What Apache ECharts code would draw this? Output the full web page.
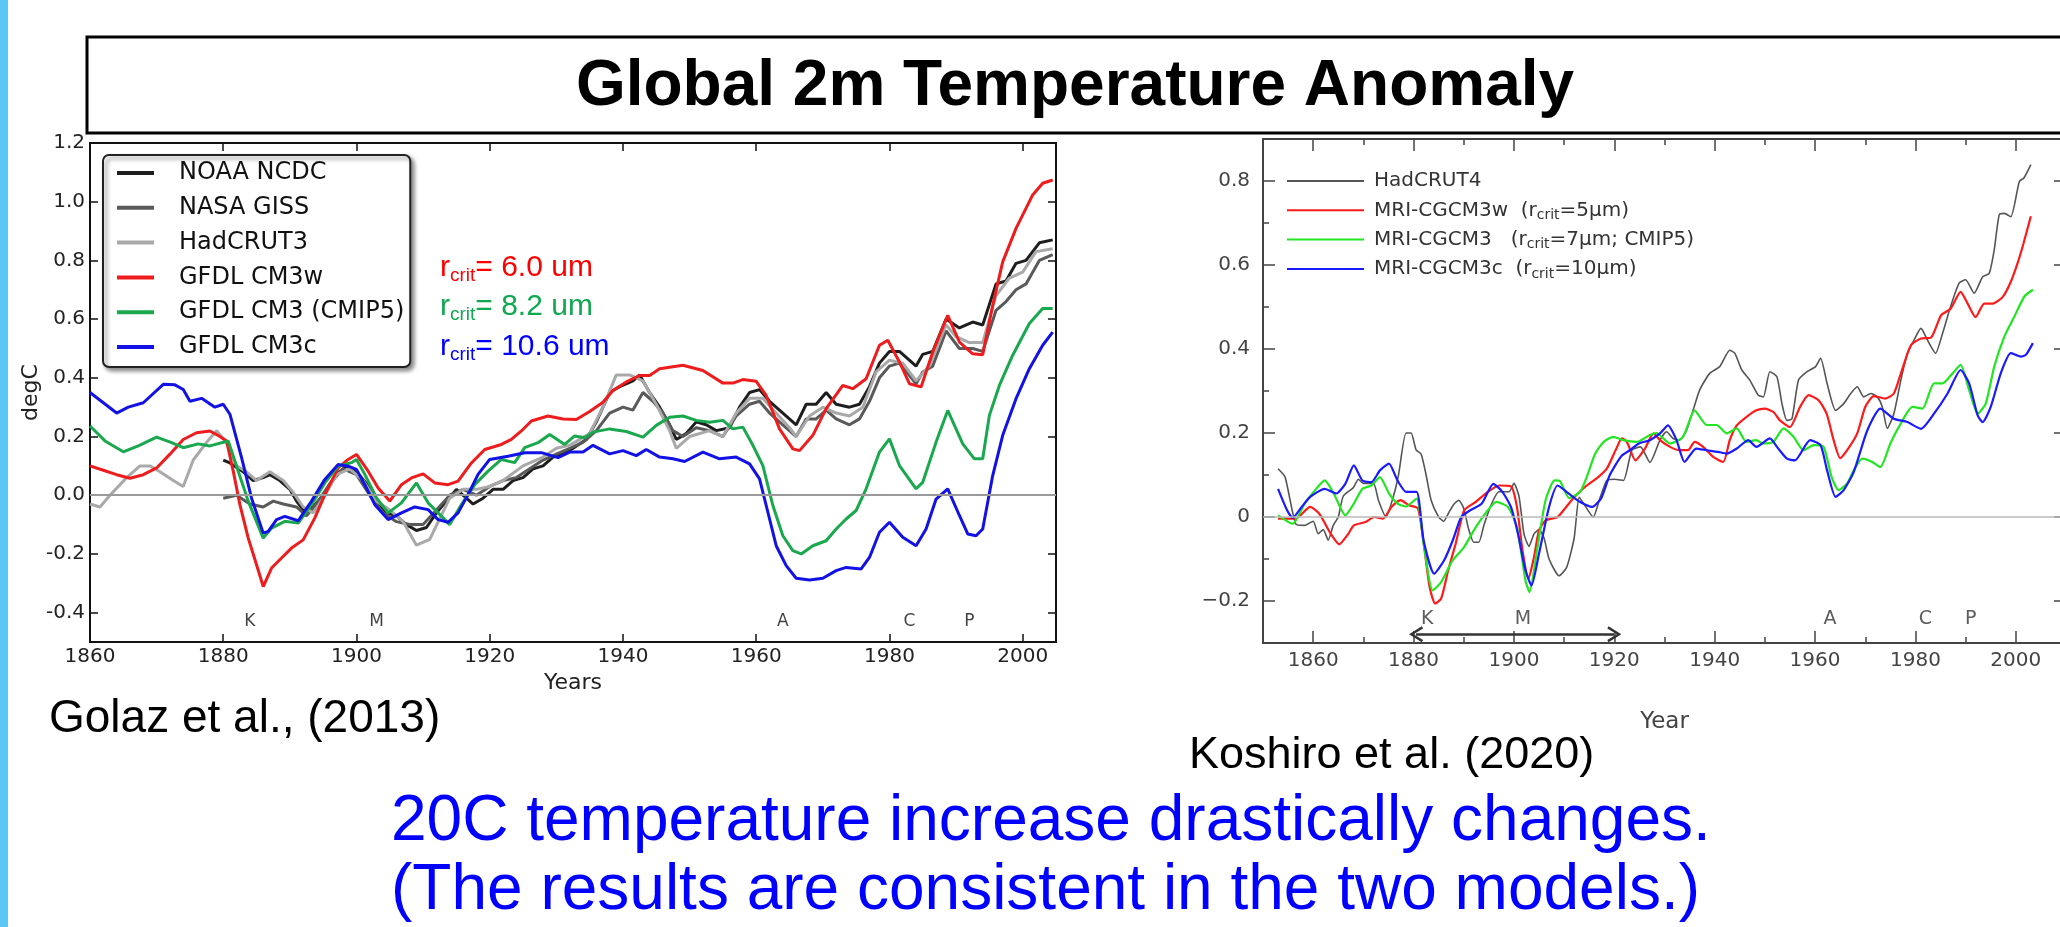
<!DOCTYPE html>
<html>
<head>
<meta charset="utf-8">
<script src="https://cdn.jsdelivr.net/npm/echarts@6/dist/echarts.min.js"></script>
<style>
html,body{margin:0;padding:0;background:#fff;}
#c{width:2060px;height:927px;}
</style>
</head>
<body>
<div id="c"></div>
<script>
// ---------------- DATA: left panel (Golaz et al., 2013) ----------------
const leftXTicks = [1860, 1880, 1900, 1920, 1940, 1960, 1980, 2000];
const leftYTicks = [-0.4, -0.2, 0, 0.2, 0.4, 0.6, 0.8, 1.0, 1.2];
const leftEventYears = [1884, 1903, 1964, 1983, 1992];
const leftEventNames = ['K', 'M', 'A', 'C', 'P'];

const noaaData = [[1880,0.12],[1881,0.11],[1883,0.08],[1884.5,0.05],[1886,0.06],[1887,0.07],[1888.5,0.05],[1890,0.02],[1891,-0.02],[1892,-0.05],[1893.5,-0.04],[1895,0.0],[1897,0.07],[1898.5,0.1],[1900,0.08],[1901.5,0.04],[1903,-0.02],[1904.5,-0.06],[1906,-0.07],[1907.5,-0.1],[1909,-0.12],[1910.5,-0.11],[1912,-0.06],[1913.5,-0.02],[1915,0.02],[1916.5,-0.01],[1917.5,-0.03],[1919,-0.01],[1920.5,0.02],[1922,0.02],[1923.5,0.05],[1925,0.06],[1926.5,0.09],[1928,0.1],[1929.5,0.13],[1931,0.14],[1932.5,0.16],[1934.5,0.19],[1936,0.25],[1938,0.35],[1939.5,0.37],[1941.5,0.39],[1942.5,0.41],[1944,0.35],[1945.5,0.3],[1947,0.24],[1948,0.19],[1949.5,0.21],[1951,0.25],[1952.5,0.24],[1954,0.22],[1956,0.23],[1957.5,0.3],[1959,0.35],[1960.5,0.36],[1962,0.32],[1964,0.28],[1966,0.24],[1967.5,0.31],[1969,0.31],[1970.5,0.35],[1972,0.31],[1974,0.3],[1975.5,0.31],[1977,0.37],[1978.5,0.45],[1980,0.49],[1981.5,0.49],[1984,0.44],[1985,0.48],[1986.5,0.49],[1988.5,0.6],[1990.5,0.57],[1992.5,0.59],[1994,0.58],[1996,0.72],[1997.5,0.73],[1999,0.79],[2000.5,0.8],[2002.5,0.86],[2004.5,0.87]];
const gissData = [[1880,-0.01],[1882,0.0],[1884,-0.03],[1886,-0.04],[1887.5,-0.02],[1889,-0.03],[1891,-0.04],[1892.5,-0.07],[1894,-0.03],[1896,0.04],[1898,0.09],[1900,0.07],[1902,0.0],[1904,-0.06],[1906,-0.09],[1908,-0.1],[1910,-0.1],[1912,-0.05],[1914,0.0],[1916,0.02],[1918,0.0],[1920,0.03],[1922,0.05],[1924,0.06],[1926,0.09],[1928,0.12],[1930,0.14],[1932,0.16],[1934,0.18],[1936,0.22],[1938,0.28],[1940,0.3],[1941.5,0.29],[1943,0.35],[1944.5,0.32],[1946,0.28],[1947.5,0.22],[1949,0.2],[1951,0.23],[1953,0.22],[1955,0.2],[1957,0.27],[1959,0.31],[1960.5,0.32],[1962,0.28],[1964,0.24],[1966,0.2],[1967.5,0.26],[1969,0.26],[1970.5,0.29],[1972,0.26],[1974,0.24],[1975.5,0.26],[1977,0.32],[1978.5,0.4],[1980,0.44],[1981.5,0.45],[1984,0.38],[1985,0.42],[1986.5,0.44],[1988.5,0.56],[1990.5,0.5],[1992.5,0.5],[1994,0.49],[1996,0.63],[1997.5,0.66],[1999,0.7],[2000.5,0.72],[2002.5,0.8],[2004.5,0.82]];
const had3Data = [[1860,-0.03],[1861.5,-0.04],[1863,0.0],[1865.5,0.06],[1867.5,0.1],[1869,0.1],[1870.5,0.08],[1872.5,0.05],[1874,0.03],[1875.5,0.12],[1877.5,0.18],[1879,0.22],[1880.5,0.18],[1882,0.1],[1883.5,0.08],[1885,0.05],[1887,0.08],[1889,0.05],[1890.5,0.01],[1892,-0.04],[1893.5,-0.06],[1895,-0.01],[1897,0.07],[1899,0.09],[1901,0.05],[1903,-0.02],[1905,-0.05],[1907,-0.09],[1909,-0.17],[1911,-0.15],[1912.5,-0.08],[1914,-0.01],[1916,0.02],[1918,0.02],[1920,0.03],[1922,0.05],[1925,0.1],[1928,0.13],[1930,0.16],[1932,0.17],[1935,0.21],[1937,0.3],[1939,0.41],[1941,0.41],[1943,0.39],[1945,0.31],[1947,0.22],[1948,0.16],[1950,0.2],[1953,0.22],[1955,0.2],[1957,0.28],[1959,0.33],[1961,0.33],[1963,0.28],[1965,0.23],[1966,0.2],[1968,0.27],[1970,0.3],[1972,0.28],[1974,0.27],[1976,0.3],[1978,0.42],[1980,0.46],[1982,0.45],[1984,0.39],[1986,0.44],[1988.5,0.58],[1990,0.54],[1992,0.52],[1994,0.52],[1996,0.68],[1998,0.74],[2000,0.76],[2002,0.83],[2004.5,0.84]];
const cm3wData = [[1860,0.10],[1862,0.085],[1864,0.07],[1866,0.058],[1868,0.07],[1870,0.093],[1872,0.14],[1874,0.19],[1876,0.213],[1878,0.219],[1879.5,0.2],[1880.5,0.185],[1881.5,0.082],[1882.5,-0.032],[1883.75,-0.146],[1885,-0.237],[1886,-0.311],[1887.25,-0.248],[1888.75,-0.214],[1890.25,-0.18],[1892,-0.152],[1893.75,-0.077],[1895.25,0.002],[1897.25,0.093],[1898.75,0.122],[1900,0.139],[1901.75,0.082],[1903.25,0.025],[1905,-0.02],[1906.75,0.036],[1908.25,0.059],[1910,0.073],[1911.75,0.042],[1913.75,0.036],[1915.25,0.048],[1917.25,0.11],[1919.25,0.156],[1921.75,0.173],[1923.25,0.19],[1924.75,0.219],[1926.25,0.253],[1928.75,0.27],[1931,0.26],[1933,0.258],[1935,0.285],[1937,0.317],[1938.5,0.357],[1940.5,0.386],[1942.5,0.408],[1944,0.408],[1945.5,0.431],[1949,0.443],[1952,0.425],[1955,0.382],[1956.5,0.382],[1958,0.394],[1960,0.388],[1961.5,0.34],[1963.5,0.226],[1965.5,0.158],[1966.5,0.152],[1968.5,0.204],[1970.5,0.295],[1973,0.374],[1974.5,0.363],[1976.5,0.397],[1978.5,0.511],[1979.75,0.528],[1981.5,0.454],[1983,0.38],[1984.75,0.369],[1986.5,0.488],[1988.75,0.613],[1990.5,0.522],[1992.5,0.482],[1994,0.479],[1995.5,0.647],[1997,0.795],[1999,0.909],[2001.5,1.023],[2003,1.063],[2004.5,1.074]];
const cm3Data = [[1860,0.236],[1862.25,0.185],[1865,0.148],[1867.25,0.168],[1870,0.198],[1872.25,0.179],[1874,0.162],[1876.25,0.175],[1878,0.168],[1880.75,0.185],[1882.25,0.082],[1883.75,-0.02],[1886,-0.146],[1887.25,-0.112],[1889.25,-0.089],[1891.25,-0.095],[1893.25,-0.032],[1895.25,0.042],[1897.25,0.099],[1899.25,0.111],[1900,0.122],[1901.25,0.071],[1903,-0.009],[1904.75,-0.06],[1906.75,-0.026],[1909,0.042],[1910.75,-0.026],[1912.25,-0.06],[1914,-0.1],[1915.75,-0.032],[1917.75,0.036],[1919.75,0.082],[1921.75,0.122],[1923.75,0.111],[1925.25,0.162],[1927.25,0.179],[1929,0.207],[1931.25,0.173],[1932.75,0.202],[1934.25,0.196],[1935.5,0.215],[1938,0.226],[1940.5,0.217],[1943,0.198],[1945,0.238],[1947,0.266],[1949,0.27],[1951,0.255],[1953,0.249],[1955,0.255],[1956.5,0.226],[1958,0.232],[1959.5,0.17],[1961,0.101],[1962.5,-0.035],[1964,-0.138],[1965.5,-0.189],[1966.75,-0.2],[1968.5,-0.172],[1970.5,-0.155],[1972,-0.115],[1973.5,-0.081],[1975,-0.052],[1976.5,0.022],[1978.5,0.147],[1980,0.192],[1981.5,0.101],[1984,0.022],[1985,0.044],[1987,0.181],[1988.75,0.289],[1991,0.175],[1992.75,0.124],[1994,0.124],[1995,0.272],[1996.5,0.374],[1998.5,0.477],[2001,0.585],[2003,0.636],[2004.5,0.636]];
const cm3cData = [[1860,0.35],[1864,0.28],[1865.75,0.30],[1868,0.315],[1871,0.378],[1872.75,0.376],[1874,0.36],[1875,0.32],[1876.75,0.33],[1878.75,0.30],[1880,0.31],[1881,0.276],[1882.75,0.128],[1884.25,-0.01],[1886,-0.129],[1886.75,-0.123],[1888,-0.083],[1889.25,-0.072],[1891.25,-0.087],[1893.25,-0.02],[1895.25,0.054],[1897.25,0.105],[1898.75,0.099],[1900,0.088],[1901.25,0.036],[1902.75,-0.032],[1904.75,-0.083],[1906.75,-0.06],[1908.75,-0.04],[1910.75,-0.049],[1912.25,-0.083],[1913.75,-0.092],[1915.25,-0.06],[1916.75,0.002],[1918.25,0.071],[1920,0.122],[1922.75,0.133],[1925.25,0.145],[1927.75,0.145],[1930.25,0.128],[1932,0.147],[1934,0.147],[1935.5,0.17],[1938,0.141],[1940,0.152],[1942,0.135],[1943.5,0.156],[1945.5,0.13],[1947.5,0.124],[1949.25,0.115],[1952,0.147],[1954.5,0.124],[1957,0.13],[1959,0.107],[1960.5,0.056],[1961.5,-0.035],[1963,-0.172],[1964.5,-0.24],[1966,-0.283],[1968,-0.289],[1970,-0.283],[1972,-0.257],[1973.5,-0.246],[1975.75,-0.251],[1977,-0.212],[1978.5,-0.126],[1980,-0.092],[1982,-0.143],[1984,-0.172],[1985.5,-0.115],[1987,-0.013],[1988.75,0.022],[1990.5,-0.069],[1991.75,-0.132],[1993,-0.138],[1994,-0.115],[1995.5,0.067],[1997,0.204],[1999,0.329],[2001,0.431],[2003,0.511],[2004.5,0.556]];

// ---------------- DATA: right panel (Koshiro et al., 2020) ----------------
const rightXMajor = [1860, 1880, 1900, 1920, 1940, 1960, 1980, 2000];
const rightXMinor = [1870, 1890, 1910, 1930, 1950, 1970, 1990];
const rightYMajor = [-0.2, 0, 0.2, 0.4, 0.6, 0.8];
const rightYMinor = [-0.1, 0.1, 0.3, 0.5, 0.7];
const rightEventYears = [1882.7, 1901.8, 1963, 1982, 1991];
const rightEventNames = ['K', 'M', 'A', 'C', 'P'];
const rightArrowYears = [1880.5, 1920];

const had4Data = [[1853,0.115],[1854.4,0.095],[1856.5,-0.016],[1858.3,-0.02],[1860,-0.01],[1861,-0.04],[1862,-0.03],[1863,-0.055],[1864,-0.02],[1865,0.0],[1866,0.05],[1868,0.07],[1869,0.09],[1870,0.08],[1872,0.08],[1873,0.04],[1874.5,0.0],[1876,0.05],[1877,0.1],[1878.5,0.2],[1879.5,0.2],[1880.5,0.16],[1881.5,0.15],[1882.5,0.1],[1883.5,0.04],[1885,0.0],[1886,-0.01],[1887,0.01],[1888,0.03],[1889,0.04],[1890,0.02],[1891,-0.03],[1892,-0.06],[1893,-0.06],[1894,-0.02],[1895.5,0.03],[1897,0.06],[1899,0.06],[1900,0.08],[1901,0.05],[1902,-0.04],[1903,-0.07],[1904,-0.04],[1905,-0.03],[1906,-0.05],[1907,-0.1],[1909,-0.14],[1910.5,-0.12],[1912,-0.05],[1913,0.047],[1914,0.03],[1915.8,0.0],[1917,0.04],[1918.5,0.087],[1920,0.09],[1921.8,0.087],[1923.5,0.159],[1925.2,0.167],[1927.1,0.13],[1929.1,0.183],[1930.4,0.203],[1931.7,0.187],[1933,0.183],[1934.4,0.207],[1935.7,0.254],[1937,0.302],[1939,0.342],[1941,0.358],[1943,0.397],[1944,0.39],[1945.4,0.35],[1947,0.326],[1948.7,0.29],[1949.7,0.286],[1951,0.346],[1952.4,0.334],[1953.4,0.27],[1954.4,0.23],[1955.4,0.234],[1956.7,0.326],[1958.4,0.346],[1960.1,0.358],[1961.1,0.378],[1962.4,0.318],[1964.1,0.254],[1965.7,0.27],[1967.1,0.294],[1968.4,0.31],[1969.7,0.286],[1971.1,0.294],[1972.4,0.286],[1973.4,0.262],[1974.4,0.211],[1975.7,0.246],[1977.1,0.326],[1978.4,0.39],[1979.7,0.421],[1981.1,0.449],[1982.4,0.421],[1984,0.39],[1985.4,0.437],[1987,0.501],[1988.7,0.557],[1990,0.565],[1991.7,0.533],[1993.4,0.572],[1994.7,0.58],[1995.7,0.636],[1996.7,0.72],[1997.7,0.723],[1999,0.715],[2000.7,0.799],[2001.6,0.807],[2003,0.839]];
const mriwData = [[1853,-0.004],[1856.5,-0.004],[1859.4,0.024],[1861.2,0.008],[1863.5,-0.04],[1865.2,-0.065],[1867,-0.04],[1868.1,-0.02],[1870.4,-0.012],[1872.2,0.0],[1873.9,-0.004],[1875.6,0.024],[1877.4,0.04],[1879.1,0.028],[1880.9,0.02],[1882.2,-0.079],[1883.2,-0.167],[1884.3,-0.206],[1885.5,-0.194],[1886.9,-0.127],[1888.4,-0.063],[1890.1,0.016],[1892.4,0.036],[1894.8,0.06],[1897.1,0.075],[1899.4,0.073],[1900.6,0.024],[1901.7,-0.079],[1902.9,-0.147],[1904,-0.095],[1905,-0.032],[1906.3,-0.008],[1908.7,0.0],[1910.4,0.024],[1912.1,0.048],[1914.5,0.075],[1916.8,0.095],[1918.5,0.115],[1920.3,0.16],[1921.5,0.187],[1922.5,0.179],[1924.2,0.135],[1926.1,0.163],[1927.8,0.199],[1929.1,0.183],[1931.1,0.167],[1933,0.159],[1934.7,0.159],[1936,0.179],[1937.7,0.167],[1939.7,0.143],[1941.7,0.131],[1943,0.183],[1944.4,0.218],[1946.3,0.238],[1948.3,0.254],[1950,0.258],[1951.7,0.25],[1953,0.23],[1955,0.214],[1957,0.262],[1958.7,0.29],[1960.7,0.278],[1962.3,0.246],[1963.7,0.183],[1965,0.14],[1966.4,0.159],[1968.4,0.199],[1970,0.262],[1971.7,0.288],[1974,0.282],[1975.7,0.294],[1977.1,0.342],[1979.1,0.409],[1981.1,0.425],[1983.1,0.427],[1985.1,0.48],[1987,0.496],[1989,0.536],[1990.4,0.508],[1992,0.476],[1993.7,0.508],[1995.4,0.508],[1997.4,0.524],[1999,0.56],[2000.5,0.61],[2001.5,0.65],[2003,0.716]];
const mriData = [[1853,0.004],[1855.9,-0.016],[1858.3,0.032],[1860.6,0.067],[1862.3,0.087],[1864.1,0.056],[1866.4,0.004],[1868.1,0.032],[1869.8,0.067],[1871.6,0.075],[1873.3,0.095],[1875.1,0.056],[1876.8,0.032],[1878.5,0.025],[1880.6,0.044],[1882,-0.063],[1883.8,-0.175],[1885.5,-0.155],[1887.8,-0.103],[1890.1,-0.071],[1892.4,-0.024],[1894.8,0.016],[1896.5,0.036],[1898.8,0.024],[1900.6,-0.024],[1902.3,-0.151],[1903.1,-0.179],[1904.6,-0.079],[1906.3,0.04],[1908.1,0.087],[1909.2,0.085],[1911,0.045],[1913.2,0.06],[1914.5,0.095],[1916.2,0.151],[1917.9,0.179],[1919.8,0.191],[1921.8,0.183],[1924.5,0.179],[1927.1,0.195],[1928.4,0.2],[1931.1,0.175],[1933.7,0.191],[1936,0.254],[1938.4,0.219],[1940.4,0.219],[1942.4,0.199],[1944.4,0.211],[1946.3,0.179],[1948.3,0.183],[1949.7,0.175],[1951.7,0.179],[1953.7,0.211],[1955.7,0.191],[1957.7,0.159],[1959.7,0.171],[1961.7,0.167],[1963.3,0.095],[1964.7,0.064],[1966.4,0.08],[1967.7,0.111],[1969.4,0.139],[1971.4,0.131],[1973,0.119],[1975,0.175],[1977.1,0.223],[1979.4,0.262],[1981.4,0.258],[1983.7,0.318],[1985.4,0.318],[1987.4,0.342],[1989,0.362],[1990.7,0.302],[1992.4,0.246],[1994,0.27],[1995.7,0.358],[1997.7,0.429],[1999.7,0.477],[2001.7,0.525],[2003.4,0.541]];
const mricData = [[1853,0.067],[1854.8,0.016],[1855.9,-0.002],[1857.7,0.024],[1859.4,0.048],[1862.3,0.067],[1864.6,0.056],[1866.4,0.079],[1868.1,0.123],[1869.8,0.087],[1871.6,0.083],[1873.3,0.111],[1875.1,0.127],[1876.8,0.087],[1878.5,0.06],[1880.6,0.06],[1882,-0.056],[1884.1,-0.135],[1886.1,-0.103],[1887.8,-0.056],[1889.5,0.0],[1891.3,0.016],[1893.6,0.032],[1895.9,0.079],[1897.7,0.06],[1899.4,0.024],[1900.8,-0.04],[1902.3,-0.127],[1903.5,-0.163],[1905,-0.087],[1907,0.024],[1908.7,0.075],[1911,0.055],[1913.3,0.035],[1915.6,0.024],[1917.4,0.045],[1919.1,0.1],[1921.4,0.145],[1923.2,0.16],[1924.9,0.175],[1927.1,0.183],[1929.1,0.199],[1930.7,0.218],[1932.4,0.183],[1934,0.131],[1936.3,0.163],[1938.4,0.159],[1940.7,0.155],[1942.4,0.151],[1944.4,0.163],[1946.7,0.183],[1948.3,0.167],[1951,0.187],[1952.4,0.167],[1954.4,0.139],[1956,0.135],[1959,0.183],[1961.1,0.171],[1962.4,0.111],[1964.1,0.048],[1965.7,0.064],[1967.7,0.107],[1970.4,0.206],[1973,0.258],[1975.7,0.234],[1978.4,0.226],[1981.1,0.21],[1983.7,0.246],[1986.4,0.294],[1989,0.35],[1990.7,0.318],[1992.4,0.242],[1993.4,0.226],[1995,0.262],[1997,0.342],[1999,0.39],[2001,0.382],[2002,0.386],[2003.4,0.414]];

// ---------------- CHART ----------------
const chart = echarts.init(document.getElementById('c'), null, {renderer: 'canvas'});
const DV = '"DejaVu Sans", Verdana, sans-serif';
const AR = '"Liberation Sans", Arial, Helvetica, sans-serif';

const leftLabelEvents = leftEventYears.map((y, i) => ({value: [y, -0.43], name: leftEventNames[i]}));
const rightLabelEvents = rightEventYears.map((y, i) => ({value: [y, -0.243], name: rightEventNames[i]}));

function lfmt(v){ return Number(v).toFixed(1); }
function rfmt(v){ if (Math.abs(v) < 1e-9) return '0'; return (v < 0 ? '\u2212' : '') + Math.abs(v).toFixed(1); }

const rightLegendText = {
  'HadCRUT4': 'HadCRUT4',
  'MRI-CGCM3w': '{a|MRI-CGCM3w  (r}{s|crit}{a|=5\u03bcm)}',
  'MRI-CGCM3': '{a|MRI-CGCM3   (r}{s|crit}{a|=7\u03bcm; CMIP5)}',
  'MRI-CGCM3c': '{a|MRI-CGCM3c  (r}{s|crit}{a|=10\u03bcm)}'
};

function leftLine(name, data, color, extra) {
  return Object.assign({
    name, type: 'line', xAxisIndex: 0, yAxisIndex: 0, data, color,
    showSymbol: false, symbol: 'none', lineStyle: {width: 3, color}, silent: true
  }, extra || {});
}
function rightLine(name, data, color, width, extra) {
  return Object.assign({
    name, type: 'line', xAxisIndex: 2, yAxisIndex: 2, data, color,
    showSymbol: false, symbol: 'none', smooth: 0.2, lineStyle: {width, color}, silent: true
  }, extra || {});
}

const tickStyleL = {color: '#111', width: 1.5};
const tickStyleR = {color: '#444', width: 1.5};
const noLine = {show: false, onZero: false};

const option = {
  animation: false,
  backgroundColor: '#ffffff',
  grid: [
    {left: 90, top: 143, width: 966, height: 499, show: true, borderColor: '#111', borderWidth: 2, backgroundColor: 'transparent', containLabel: false, outerBoundsMode: 'none'},
    {left: 1263, top: 139, width: 803, height: 504, show: true, borderColor: '#444', borderWidth: 2, backgroundColor: 'transparent', containLabel: false, outerBoundsMode: 'none'}
  ],
  xAxis: [
    {type: 'value', gridIndex: 0, position: 'bottom', min: 1860, max: 2005,
     axisLine: noLine, splitLine: {show: false},
     axisTick: {show: true, inside: true, length: 8, lineStyle: tickStyleL, customValues: leftXTicks},
     axisLabel: {show: true, margin: 5, color: '#222', fontFamily: DV, fontSize: 20, customValues: leftXTicks, formatter: v => String(v)},
     name: 'Years', nameLocation: 'middle', nameGap: 26, nameTextStyle: {fontFamily: DV, fontSize: 22, color: '#222'}},
    {type: 'value', gridIndex: 0, position: 'top', min: 1860, max: 2005,
     axisLine: noLine, splitLine: {show: false},
     axisTick: {show: true, inside: true, length: 8, lineStyle: tickStyleL, customValues: leftXTicks},
     axisLabel: {show: false}},
    {type: 'value', gridIndex: 1, position: 'bottom', min: 1850, max: 2010,
     axisLine: noLine, splitLine: {show: false},
     axisTick: {show: true, inside: true, length: 12, lineStyle: tickStyleR, customValues: rightXMajor},
     axisLabel: {show: true, margin: 8, color: '#444', fontFamily: DV, fontSize: 20, customValues: rightXMajor, formatter: v => String(v)},
     name: 'Year', nameLocation: 'middle', nameGap: 68, nameTextStyle: {fontFamily: DV, fontSize: 23, color: '#444'}},
    {type: 'value', gridIndex: 1, position: 'bottom', offset: 0, min: 1850, max: 2010,
     axisLine: noLine, splitLine: {show: false},
     axisTick: {show: true, inside: true, length: 6, lineStyle: tickStyleR, customValues: rightXMinor},
     axisLabel: {show: false}},
    {type: 'value', gridIndex: 1, position: 'top', min: 1850, max: 2010,
     axisLine: noLine, splitLine: {show: false},
     axisTick: {show: true, inside: true, length: 12, lineStyle: tickStyleR, customValues: rightXMajor},
     axisLabel: {show: false}},
    {type: 'value', gridIndex: 1, position: 'top', offset: 0, min: 1850, max: 2010,
     axisLine: noLine, splitLine: {show: false},
     axisTick: {show: true, inside: true, length: 6, lineStyle: tickStyleR, customValues: rightXMinor},
     axisLabel: {show: false}}
  ],
  yAxis: [
    {type: 'value', gridIndex: 0, position: 'left', min: -0.5, max: 1.2,
     axisLine: noLine, splitLine: {show: false},
     axisTick: {show: true, inside: true, length: 8, lineStyle: tickStyleL, customValues: leftYTicks},
     axisLabel: {show: true, margin: 5, color: '#222', fontFamily: DV, fontSize: 20, customValues: leftYTicks, formatter: lfmt},
     name: 'degC', nameLocation: 'middle', nameGap: 46, nameRotate: 90, nameTextStyle: {fontFamily: DV, fontSize: 22, color: '#222'}},
    {type: 'value', gridIndex: 0, position: 'right', min: -0.5, max: 1.2,
     axisLine: noLine, splitLine: {show: false},
     axisTick: {show: true, inside: true, length: 8, lineStyle: tickStyleL, customValues: leftYTicks},
     axisLabel: {show: false}},
    {type: 'value', gridIndex: 1, position: 'left', min: -0.3, max: 0.9,
     axisLine: noLine, splitLine: {show: false},
     axisTick: {show: true, inside: true, length: 12, lineStyle: tickStyleR, customValues: rightYMajor},
     axisLabel: {show: true, margin: 13, color: '#444', fontFamily: DV, fontSize: 20, customValues: rightYMajor, formatter: rfmt}},
    {type: 'value', gridIndex: 1, position: 'left', offset: 0, min: -0.3, max: 0.9,
     axisLine: noLine, splitLine: {show: false},
     axisTick: {show: true, inside: true, length: 6, lineStyle: tickStyleR, customValues: rightYMinor},
     axisLabel: {show: false}},
    {type: 'value', gridIndex: 1, position: 'right', min: -0.3, max: 0.9,
     axisLine: noLine, splitLine: {show: false},
     axisTick: {show: true, inside: true, length: 12, lineStyle: tickStyleR, customValues: rightYMajor},
     axisLabel: {show: false}},
    {type: 'value', gridIndex: 1, position: 'right', offset: 0, min: -0.3, max: 0.9,
     axisLine: noLine, splitLine: {show: false},
     axisTick: {show: true, inside: true, length: 6, lineStyle: tickStyleR, customValues: rightYMinor},
     axisLabel: {show: false}}
  ],
  legend: [
    {data: ['NOAA NCDC', 'NASA GISS', 'HadCRUT3', 'GFDL CM3w', 'GFDL CM3 (CMIP5)', 'GFDL CM3c'],
     orient: 'vertical', left: 103, top: 155, padding: [5, 6, 7, 14], itemGap: 8.8,
     icon: 'rect', itemWidth: 37, itemHeight: 4, selectedMode: false,
     backgroundColor: '#ffffff', borderColor: '#222', borderWidth: 2, borderRadius: 6,
     shadowBlur: 4, shadowOffsetX: 3, shadowOffsetY: 3, shadowColor: 'rgba(0,0,0,0.45)',
     textStyle: {fontFamily: DV, fontSize: 24, lineHeight: 26, color: '#111', padding: [0, 0, 0, 20]}},
    {data: ['HadCRUT4', 'MRI-CGCM3w', 'MRI-CGCM3', 'MRI-CGCM3c'],
     orient: 'vertical', left: 1287, top: 169, padding: 0, itemGap: 5.3,
     icon: 'rect', itemWidth: 77, itemHeight: 2, selectedMode: false,
     formatter: n => rightLegendText[n],
     textStyle: {fontFamily: DV, fontSize: 20, lineHeight: 24, color: '#333', padding: [0, 0, 0, 5],
       rich: {
         a: {fontFamily: DV, fontSize: 20, lineHeight: 24, color: '#333', verticalAlign: 'middle'},
         s: {fontFamily: DV, fontSize: 14, lineHeight: 14, color: '#333', verticalAlign: 'bottom'}
       }}}
  ],
  series: [
    leftLine('NOAA NCDC', noaaData, '#1e1e1e', {
      markLine: {silent: true, symbol: 'none', label: {show: false}, lineStyle: {color: '#9a9a9a', width: 2, type: 'solid'}, data: [{yAxis: 0}], animation: false}
    }),
    leftLine('NASA GISS', gissData, '#5a5a5a'),
    leftLine('HadCRUT3', had3Data, '#a9a9a9'),
    leftLine('GFDL CM3w', cm3wData, '#ee1c1c'),
    leftLine('GFDL CM3 (CMIP5)', cm3Data, '#19a84e'),
    leftLine('GFDL CM3c', cm3cData, '#1212e6'),
    {name: 'leftEvents', type: 'scatter', xAxisIndex: 0, yAxisIndex: 0, data: leftLabelEvents,
     symbolSize: 0.1, itemStyle: {color: 'rgba(0,0,0,0)'}, silent: true,
     label: {show: true, position: 'inside', formatter: p => p.name, fontFamily: DV, fontSize: 17, color: '#111'}},
    rightLine('HadCRUT4', had4Data, '#555555', 1.6, {
      markLine: {silent: true, symbol: 'none', label: {show: false}, lineStyle: {color: '#bbbbbb', width: 1.5, type: 'solid'}, data: [{yAxis: 0}], animation: false}
    }),
    rightLine('MRI-CGCM3w', mriwData, '#ff1a1a', 2.2),
    rightLine('MRI-CGCM3', mriData, '#22e622', 2.2),
    rightLine('MRI-CGCM3c', mricData, '#1a1aff', 2.2),
    {name: 'rightEvents', type: 'scatter', xAxisIndex: 2, yAxisIndex: 2, data: rightLabelEvents,
     symbolSize: 0.1, itemStyle: {color: 'rgba(0,0,0,0)'}, silent: true,
     label: {show: true, position: 'inside', formatter: p => p.name, fontFamily: DV, fontSize: 19, color: '#333'},
     markLine: {silent: true, symbol: ['path://M0,10 L5,0 L10,10 L8.6,11 L5,3.5 L1.4,11 Z', 'path://M0,10 L5,0 L10,10 L8.6,11 L5,3.5 L1.4,11 Z'],
       symbolSize: [16, 14], label: {show: false}, lineStyle: {color: '#333', width: 2.5, type: 'solid'},
       data: [[{coord: [rightArrowYears[0], -0.279]}, {coord: [rightArrowYears[1], -0.279]}]], animation: false}}
  ],
  graphic: [
    {type: 'rect', left: 0, top: 0, shape: {x: 0, y: 0, width: 8, height: 927}, style: {fill: '#5cc6f4'}, silent: true},
    {type: 'rect', shape: {x: 87, y: 37, width: 1990, height: 96}, style: {fill: 'none', stroke: '#000', lineWidth: 3}, silent: true, z: 10},
    {type: 'text', x: 1075, y: 87, silent: true, z: 10,
     style: {text: 'Global 2m Temperature Anomaly', fontFamily: AR, fontWeight: 'bold', fontSize: 64, fill: '#000',
       align: 'center', verticalAlign: 'middle', textAlign: 'center', textVerticalAlign: 'middle'}},
    {type: 'text', x: 440, y: 268, silent: true, z: 10,
     style: {text: '{r|r}{s|crit}{r|= 6.0 um}', fill: '#ff0000', align: 'left', verticalAlign: 'middle', textAlign: 'left', textVerticalAlign: 'middle',
       rich: {r: {fontFamily: AR, fontSize: 30, lineHeight: 34, fill: '#ff0000', color: '#ff0000', verticalAlign: 'middle'},
              s: {fontFamily: AR, fontSize: 19, lineHeight: 19, fill: '#ff0000', color: '#ff0000', verticalAlign: 'bottom'}}}},
    {type: 'text', x: 440, y: 307, silent: true, z: 10,
     style: {text: '{r|r}{s|crit}{r|= 8.2 um}', fill: '#10a850', align: 'left', verticalAlign: 'middle', textAlign: 'left', textVerticalAlign: 'middle',
       rich: {r: {fontFamily: AR, fontSize: 30, lineHeight: 34, fill: '#10a850', color: '#10a850', verticalAlign: 'middle'},
              s: {fontFamily: AR, fontSize: 19, lineHeight: 19, fill: '#10a850', color: '#10a850', verticalAlign: 'bottom'}}}},
    {type: 'text', x: 440, y: 347, silent: true, z: 10,
     style: {text: '{r|r}{s|crit}{r|= 10.6 um}', fill: '#0000ff', align: 'left', verticalAlign: 'middle', textAlign: 'left', textVerticalAlign: 'middle',
       rich: {r: {fontFamily: AR, fontSize: 30, lineHeight: 34, fill: '#0000ff', color: '#0000ff', verticalAlign: 'middle'},
              s: {fontFamily: AR, fontSize: 19, lineHeight: 19, fill: '#0000ff', color: '#0000ff', verticalAlign: 'bottom'}}}},
    {type: 'text', x: 49, y: 719, silent: true,
     style: {text: 'Golaz et al., (2013)', fontFamily: AR, fontSize: 46, fill: '#000', align: 'left', verticalAlign: 'middle', textAlign: 'left', textVerticalAlign: 'middle'}},
    {type: 'text', x: 1189, y: 756, silent: true,
     style: {text: 'Koshiro et al. (2020)', fontFamily: AR, fontSize: 45, fill: '#000', align: 'left', verticalAlign: 'middle', textAlign: 'left', textVerticalAlign: 'middle'}},
    {type: 'text', x: 391, y: 822, silent: true,
     style: {text: '20C temperature increase drastically changes.', fontFamily: AR, fontSize: 64, fill: '#0000ff', align: 'left', verticalAlign: 'middle', textAlign: 'left', textVerticalAlign: 'middle'}},
    {type: 'text', x: 391, y: 891, silent: true,
     style: {text: '(The results are consistent in the two models.)', fontFamily: AR, fontSize: 64, fill: '#0000ff', align: 'left', verticalAlign: 'middle', textAlign: 'left', textVerticalAlign: 'middle'}}
  ]
};
chart.setOption(option);
</script>
</body>
</html>
